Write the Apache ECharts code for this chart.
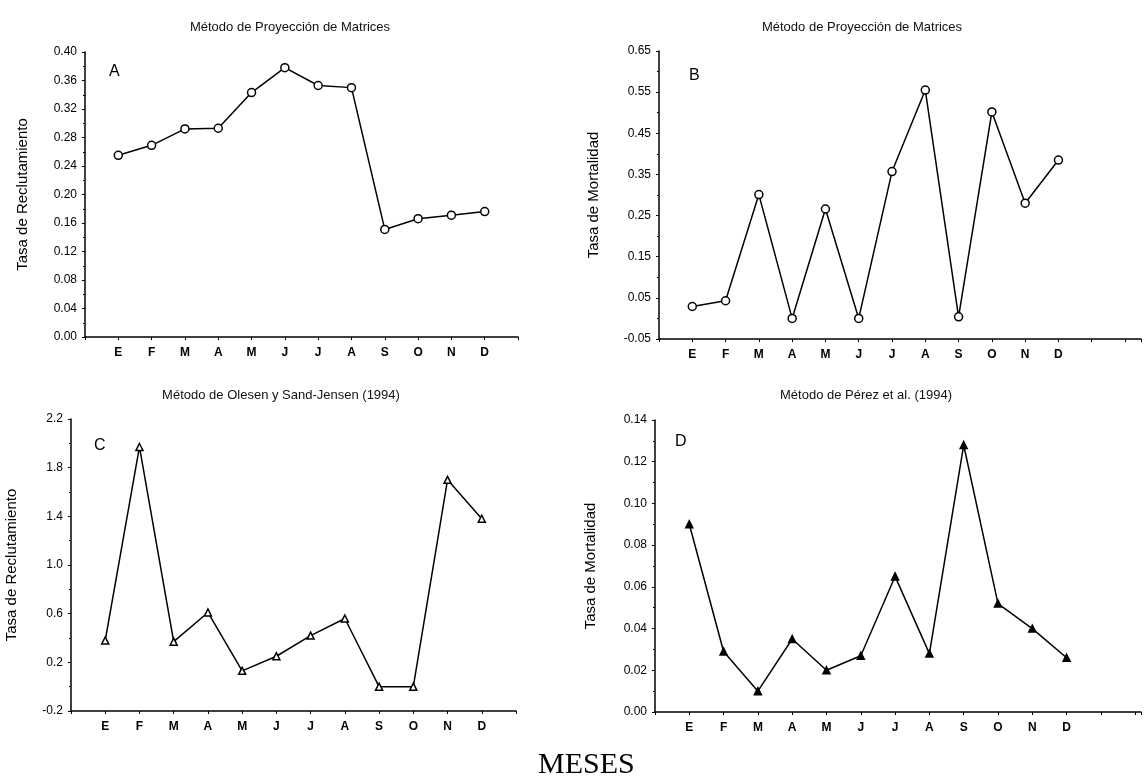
<!DOCTYPE html>
<html>
<head>
<meta charset="utf-8">
<title>Tasas de reclutamiento y mortalidad</title>
<script src="https://cdn.jsdelivr.net/npm/echarts@6/dist/echarts.min.js"></script>
<style>
  html, body { margin: 0; padding: 0; background: #fff; }
  #chart { width: 1144px; height: 782px; }
</style>
</head>
<body>
<div id="chart"></div>
<script>
  // meses (eje x de los cuatro paneles)
  var months = ['E', 'F', 'M', 'A', 'M', 'J', 'J', 'A', 'S', 'O', 'N', 'D'];

  // A: reclutamiento, proyeccion de matrices
  var recruitMatrix = [0.255, 0.269, 0.292, 0.293, 0.343, 0.378, 0.353, 0.350, 0.151, 0.166, 0.171, 0.176];
  // B: mortalidad, proyeccion de matrices
  var mortalityMatrix = [0.029, 0.043, 0.301, 0.000, 0.266, 0.000, 0.357, 0.555, 0.004, 0.502, 0.280, 0.385];
  // C: reclutamiento, Olesen y Sand-Jensen (1994)
  var recruitOlesen = [0.38, 1.97, 0.37, 0.61, 0.13, 0.25, 0.42, 0.56, 0.0, 0.0, 1.70, 1.38];
  // D: mortalidad, Perez et al. (1994)
  var mortalityPerez = [0.090, 0.029, 0.010, 0.035, 0.020, 0.027, 0.065, 0.028, 0.128, 0.052, 0.040, 0.026];

  // marcas del eje y
  var yTicksA = [0.00, 0.04, 0.08, 0.12, 0.16, 0.20, 0.24, 0.28, 0.32, 0.36, 0.40];
  var yTicksB = [-0.05, 0.05, 0.15, 0.25, 0.35, 0.45, 0.55, 0.65];
  var yTicksC = [-0.2, 0.2, 0.6, 1.0, 1.4, 1.8, 2.2];
  var yTicksD = [0.00, 0.02, 0.04, 0.06, 0.08, 0.10, 0.12, 0.14];

  var myChart = echarts.init(document.getElementById('chart'));
  var font = 'Arial, "Liberation Sans", sans-serif';

  function toPoints(values) {
    return values.map(function (v, i) { return [i + 1, v]; });
  }

  function xAxis(idx, max) {
    return {
      type: 'value', gridIndex: idx, min: 0, max: max, interval: 1,
      axisLine: { onZero: false, lineStyle: { color: '#000', width: 1.5 } },
      axisTick: { length: 3, lineStyle: { color: '#000' } },
      splitLine: { show: false },
      axisLabel: {
        color: '#000', fontFamily: font, fontSize: 12, fontWeight: 'bold', margin: 10,
        formatter: function (v) { return months[v - 1] || ''; }
      }
    };
  }

  function yAxis(idx, ticks, digits, name, gap) {
    return {
      type: 'value', gridIndex: idx,
      min: ticks[0], max: ticks[ticks.length - 1],
      interval: +(ticks[1] - ticks[0]).toFixed(4),
      name: name, nameLocation: 'middle', nameGap: gap,
      nameTextStyle: { color: '#000', fontFamily: font, fontSize: 15 },
      axisLine: { show: true, onZero: false, lineStyle: { color: '#000', width: 1.5 } },
      axisTick: { show: true, length: 3, lineStyle: { color: '#000' } },
      minorTick: { show: true, splitNumber: 2, length: 2, lineStyle: { color: '#000' } },
      splitLine: { show: false },
      axisLabel: {
        color: '#000', fontFamily: font, fontSize: 12, margin: 8,
        formatter: function (v) { return v.toFixed(digits); }
      }
    };
  }

  function line(idx, values, symbol, size, filled) {
    return {
      type: 'line', xAxisIndex: idx, yAxisIndex: idx,
      data: toPoints(values),
      symbol: symbol, symbolSize: size, showAllSymbol: true,
      lineStyle: { color: '#000', width: 1.5 },
      itemStyle: { color: filled ? '#000' : '#fff', borderColor: '#000', borderWidth: 1.5 },
      animation: false, silent: true
    };
  }

  function title(text, x, y) {
    return {
      text: text, left: x, top: y, textAlign: 'center',
      textStyle: { fontFamily: font, fontSize: 13, fontWeight: 'normal', color: '#111' }
    };
  }

  function letter(text, x, y) {
    return {
      type: 'text', left: x, top: y,
      style: { text: text, font: '16px ' + font, fill: '#000' }
    };
  }

  var option = {
    backgroundColor: '#fff',
    title: [
      title('Método de Proyección de Matrices', 285, 16),
      title('Método de Proyección de Matrices', 857, 16),
      title('Método de Olesen y Sand-Jensen (1994)', 276, 384),
      title('Método de Pérez et al. (1994)', 861, 384)
    ],
    grid: [
      { left: 85, top: 52, width: 433, height: 285 },
      { left: 659, top: 51, width: 485, height: 288 },
      { left: 71, top: 419, width: 445, height: 292 },
      { left: 655, top: 420, width: 489, height: 292 }
    ],
    xAxis: [xAxis(0, 13), xAxis(1, 14.48), xAxis(2, 13), xAxis(3, 14.17)],
    yAxis: [
      yAxis(0, yTicksA, 2, 'Tasa de Reclutamiento', 55),
      yAxis(1, yTicksB, 2, 'Tasa de Mortalidad', 58),
      yAxis(2, yTicksC, 1, 'Tasa de Reclutamiento', 52),
      yAxis(3, yTicksD, 2, 'Tasa de Mortalidad', 57)
    ],
    series: [
      line(0, recruitMatrix, 'circle', 8, false),
      line(1, mortalityMatrix, 'circle', 8, false),
      line(2, recruitOlesen, 'triangle', 7, false),
      line(3, mortalityPerez, 'triangle', 7, true)
    ],
    graphic: [
      letter('A', 109, 64),
      letter('B', 689, 68),
      letter('C', 94, 438),
      letter('D', 675, 434),
      {
        type: 'text', left: 538, top: 750,
        style: { text: 'MESES', font: '30px "Liberation Serif", "Times New Roman", serif', fill: '#000' }
      }
    ]
  };

  myChart.setOption(option, true);
</script>
</body>
</html>
